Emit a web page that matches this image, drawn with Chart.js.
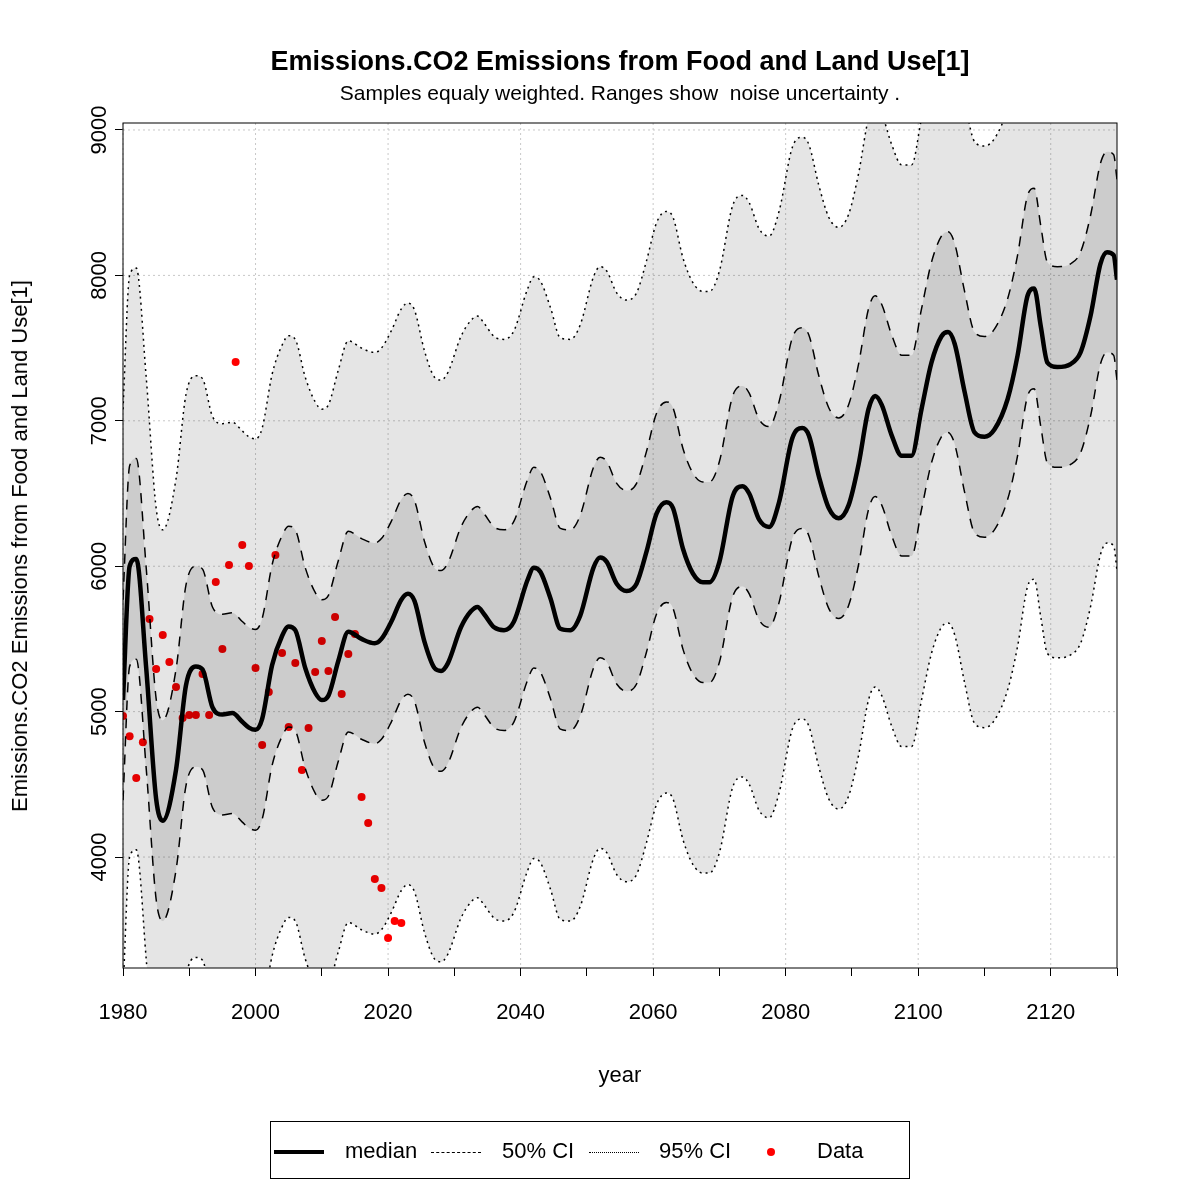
<!DOCTYPE html>
<html>
<head>
<meta charset="utf-8">
<script src="https://cdn.jsdelivr.net/npm/chart.js@4.4.1/dist/chart.umd.min.js"></script>
<style>
  body { margin: 0; background: #fff; }
  #wrap { position: relative; width: 1181px; height: 1181px; font-family: "Liberation Sans", Arial, sans-serif; color: #000; }
  #chart { position: absolute; left: 0; top: 0; }
  .txt { position: absolute; white-space: nowrap; }
  #title { top: 46px; left: 0; width: 1240px; text-align: center; font-weight: bold; font-size: 27px; }
  #subtitle { top: 81px; left: 0; width: 1240px; text-align: center; font-size: 21px; }
  #xlab { top: 1062px; left: 123px; width: 994px; text-align: center; font-size: 22px; }
  #ylab { top: 533px; left: 20px; width: 0; font-size: 22px; }
  #ylab span { position: absolute; transform: translate(-50%, 0) rotate(-90deg); transform-origin: 50% 50%; }
  #legend { position: absolute; left: 270px; top: 1121px; width: 640px; height: 58px; border: 1px solid #000; box-sizing: border-box; font-size: 22px; }
  .sw { position: absolute; top: 28px; width: 50px; height: 0; border-top: 4px solid #000; }
</style>
</head>
<body>
<div id="wrap">
  <canvas id="chart" width="1181" height="1181"></canvas>
  <div class="txt" id="title">Emissions.CO2 Emissions from Food and Land Use[1]</div>
  <div class="txt" id="subtitle">Samples equaly weighted. Ranges show&nbsp; noise uncertainty .</div>
  <div class="txt" id="xlab">year</div>
  <div class="txt" id="ylab"><span>Emissions.CO2 Emissions from Food and Land Use[1]</span></div>
  <div id="legend">
    <div class="sw" style="left:3px;"></div>
    <div class="txt" style="left:74px;top:16px;">median</div>
    <div class="sw" style="left:160px;border-top:1.5px dashed #000;top:30px;"></div>
    <div class="txt" style="left:231px;top:16px;">50% CI</div>
    <div class="sw" style="left:318px;border-top:1.5px dotted #000;top:30px;"></div>
    <div class="txt" style="left:388px;top:16px;">95% CI</div>
    <div style="position:absolute;left:496px;top:26px;width:8px;height:8px;border-radius:50%;background:#f00;"></div>
    <div class="txt" style="left:546px;top:16px;">Data</div>
  </div>
</div>
<script>
// years of the read-off points (peaks, troughs and between)
const years = [1980,1981,1982,1983.5,1985,1986,1988,1989.5,1991,1992,1993.5,1995,1996.5,1998,1999,2000,2001,2002.5,2004,2005,2006,2007.5,2009,2010,2011,2012.5,2014,2016,2018,2019,2020.5,2022,2023,2024,2025.5,2027,2028,2029,2031,2032.5,2033.5,2034.5,2036,2037.5,2039,2041,2042,2043,2044.5,2046,2047.5,2049,2051,2052,2053,2054.5,2056,2057.5,2059,2060.5,2062,2063,2064.5,2066,2067.5,2068.5,2070,2072,2073.5,2074.5,2076,2077.5,2079,2081,2082.5,2083.5,2085,2086.5,2088,2089.5,2091,2092.5,2093.5,2094.5,2096,2097.5,2099,2100.5,2102,2103.5,2104.5,2105.5,2107,2108.5,2110,2111.5,2113.5,2115,2116.5,2117.5,2118.5,2119.5,2121,2123,2124.5,2126,2127.5,2128.5,2129.5,2130];

const median = [5080,6000,6050,5300,4400,4250,4600,5180,5310,5290,5030,4980,4990,4930,4890,4875,4950,5320,5520,5585,5560,5300,5130,5080,5110,5350,5550,5500,5470,5500,5620,5770,5810,5760,5480,5300,5280,5330,5580,5690,5720,5670,5580,5560,5620,5900,5990,5960,5780,5570,5560,5660,5990,6060,6030,5880,5830,5880,6100,6360,6440,6400,6120,5950,5890,5890,6030,6480,6550,6500,6320,6270,6440,6880,6950,6900,6620,6400,6330,6420,6700,7080,7170,7110,6900,6760,6760,7080,7400,7580,7610,7530,7200,6920,6890,6940,7150,7450,7860,7910,7650,7400,7370,7390,7470,7720,8080,8160,8140,7970];

const upper50 = [5770,6690,6740,5990,5090,4940,5290,5870,6000,5980,5720,5670,5680,5620,5580,5565,5640,6010,6210,6275,6250,5990,5820,5770,5800,6040,6240,6190,6160,6190,6310,6460,6500,6450,6170,5990,5970,6020,6270,6380,6410,6360,6270,6250,6310,6590,6680,6650,6470,6260,6250,6350,6680,6750,6720,6570,6520,6570,6790,7050,7130,7090,6810,6640,6580,6580,6720,7170,7240,7190,7010,6960,7130,7570,7640,7590,7310,7090,7020,7110,7390,7770,7860,7800,7590,7450,7450,7770,8090,8270,8300,8220,7890,7610,7580,7630,7840,8140,8550,8600,8340,8090,8060,8080,8160,8410,8770,8850,8830,8660];

const lower50 = [4390,5310,5360,4610,3710,3560,3910,4490,4620,4600,4340,4290,4300,4240,4200,4185,4260,4630,4830,4895,4870,4610,4440,4390,4420,4660,4860,4810,4780,4810,4930,5080,5120,5070,4790,4610,4590,4640,4890,5000,5030,4980,4890,4870,4930,5210,5300,5270,5090,4880,4870,4970,5300,5370,5340,5190,5140,5190,5410,5670,5750,5710,5430,5260,5200,5200,5340,5790,5860,5810,5630,5580,5750,6190,6260,6210,5930,5710,5640,5730,6010,6390,6480,6420,6210,6070,6070,6390,6710,6890,6920,6840,6510,6230,6200,6250,6460,6760,7170,7220,6960,6710,6680,6700,6780,7030,7390,7470,7450,7280];

const upper95 = [7080,8000,8050,7300,6400,6250,6600,7180,7310,7290,7030,6980,6990,6930,6890,6875,6950,7320,7520,7585,7560,7300,7130,7080,7110,7350,7550,7500,7470,7500,7620,7770,7810,7760,7480,7300,7280,7330,7580,7690,7720,7670,7580,7560,7620,7900,7990,7960,7780,7570,7560,7660,7990,8060,8030,7880,7830,7880,8100,8360,8440,8400,8120,7950,7890,7890,8030,8480,8550,8500,8320,8270,8440,8880,8950,8900,8620,8400,8330,8420,8700,9080,9170,9110,8900,8760,8760,9080,9400,9580,9610,9530,9200,8920,8890,8940,9150,9450,9860,9910,9650,9400,9370,9390,9470,9720,10080,10160,10140,9970];

const lower95 = [3080,4000,4050,3300,2400,2250,2600,3180,3310,3290,3030,2980,2990,2930,2890,2875,2950,3320,3520,3585,3560,3300,3130,3080,3110,3350,3550,3500,3470,3500,3620,3770,3810,3760,3480,3300,3280,3330,3580,3690,3720,3670,3580,3560,3620,3900,3990,3960,3780,3570,3560,3660,3990,4060,4030,3880,3830,3880,4100,4360,4440,4400,4120,3950,3890,3890,4030,4480,4550,4500,4320,4270,4440,4880,4950,4900,4620,4400,4330,4420,4700,5080,5170,5110,4900,4760,4760,5080,5400,5580,5610,5530,5200,4920,4890,4940,5150,5450,5860,5910,5650,5400,5370,5390,5470,5720,6080,6160,6140,5970];

const dataYears = [1980,1981,1982,1983,1984,1985,1986,1987,1988,1989,1990,1991,1992,1993,1994,1995,1996,1997,1998,1999,2000,2001,2002,2003,2004,2005,2006,2007,2008,2009,2010,2011,2012,2013,2014,2015,2016,2017,2018,2019,2020,2021,2022];
const dataValues = [4970,4830,4543,4790,5637,5293,5527,5341,5169,4956,4977,4977,5259,4977,5891,5430,6008,7404,6146,6001,5300,4770,5135,6077,5403,4894,5334,4598,4887,5272,5486,5279,5651,5121,5396,5534,4413,4234,3849,3787,3443,3560,3546];

const xTicks = [1980,1990,2000,2010,2020,2030,2040,2050,2060,2070,2080,2090,2100,2110,2120,2130];
const yTicks = [4000,5000,6000,7000,8000,9000];

const pts = arr => arr.map((v, i) => ({ x: years[i], y: v }));
const font = { family: '"Liberation Sans", Arial, sans-serif', size: 22 };

const bandLine = (data, dash, fill, bg) => ({
  data: pts(data), borderColor: '#000', borderWidth: 1.5, borderDash: dash,
  pointRadius: 0, fill: fill, backgroundColor: bg, cubicInterpolationMode: 'monotone'
});

// dotted grid and frame, drawn by hand like R does
const frame = {
  id: 'frame',
  beforeDatasetsDraw(chart) {
    const { ctx, chartArea: a, scales: { x, y } } = chart;
    ctx.save();
    ctx.strokeStyle = '#c8c8c8';
    ctx.lineWidth = 1;
    ctx.setLineDash([2, 3]);
    xTicks.filter(t => t % 20 === 0).forEach(t => {
      const px = x.getPixelForValue(t);
      ctx.beginPath(); ctx.moveTo(px, a.top); ctx.lineTo(px, a.bottom); ctx.stroke();
    });
    yTicks.forEach(t => {
      const py = y.getPixelForValue(t);
      ctx.beginPath(); ctx.moveTo(a.left, py); ctx.lineTo(a.right, py); ctx.stroke();
    });
    ctx.restore();
  },
  afterDraw(chart) {
    const { ctx, chartArea: a, scales: { y } } = chart;
    ctx.save();
    ctx.strokeStyle = '#000';
    ctx.lineWidth = 1;
    ctx.strokeRect(a.left, a.top, a.right - a.left, a.bottom - a.top);
    // vertical y tick labels
    ctx.fillStyle = '#000';
    ctx.font = '22px "Liberation Sans", Arial, sans-serif';
    ctx.textAlign = 'center';
    ctx.textBaseline = 'middle';
    yTicks.forEach(t => {
      ctx.save();
      ctx.translate(100, y.getPixelForValue(t));
      ctx.rotate(-Math.PI / 2);
      ctx.fillText(String(t), 0, 0);
      ctx.restore();
    });
    ctx.restore();
  }
};

new Chart(document.getElementById('chart'), {
  type: 'line',
  data: {
    datasets: [
      bandLine(upper95, [2, 4], false, 'transparent'),
      bandLine(lower95, [2, 4], '-1', 'rgba(0,0,0,0.1)'),
      bandLine(upper50, [10, 8], false, 'transparent'),
      bandLine(lower50, [10, 8], '-1', 'rgba(0,0,0,0.11)'),
      { data: pts(median), borderColor: '#000', borderWidth: 4.5, pointRadius: 0, fill: false, cubicInterpolationMode: 'monotone' },
      { data: dataYears.map((yr, i) => ({ x: yr, y: dataValues[i] })), showLine: false, pointRadius: 4,
        pointBackgroundColor: '#f00', pointBorderWidth: 0, borderColor: '#f00' }
    ]
  },
  options: {
    responsive: false,
    animation: false,
    layout: { padding: { top: 123, right: 64, left: 0, bottom: 0 } },
    plugins: { legend: { display: false }, tooltip: { enabled: false }, title: { display: false } },
    scales: {
      x: {
        type: 'linear', min: 1980, max: 2130,
        afterBuildTicks: s => { s.ticks = xTicks.map(v => ({ value: v })); },
        afterFit: s => { s.height = 213; },
        border: { display: false },
        grid: { drawOnChartArea: false, drawTicks: true, tickLength: 8, color: '#000' },
        ticks: { color: '#000', font: font, padding: 24, maxRotation: 0, autoSkip: false,
          callback: v => (v % 20 === 0 && v < 2130) ? String(v) : '' }
      },
      y: {
        type: 'linear', min: 3237, max: 9048,
        afterBuildTicks: s => { s.ticks = yTicks.map(v => ({ value: v })); },
        afterFit: s => { s.width = 123; },
        border: { display: false },
        grid: { drawOnChartArea: false, drawTicks: true, tickLength: 8, color: '#000' },
        ticks: { callback: () => '' }
      }
    }
  },
  plugins: [frame]
});
</script>
</body>
</html>
